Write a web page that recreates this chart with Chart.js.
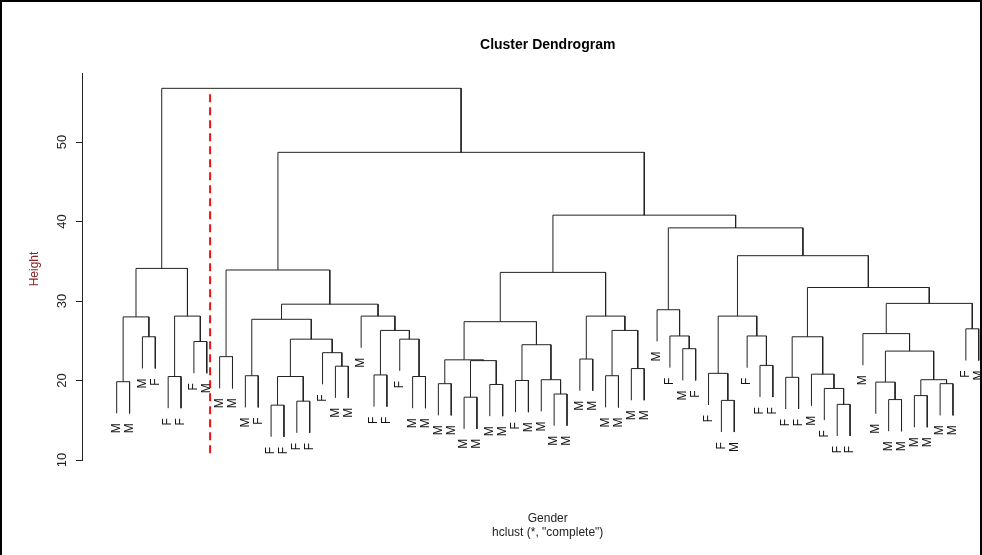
<!DOCTYPE html>
<html>
<head>
<meta charset="utf-8">
<script src="https://cdn.jsdelivr.net/npm/chart.js@4"></script>
<style>
  html, body { margin: 0; padding: 0; background: #fff; }
  #wrap { width: 982px; height: 555px; }
</style>
</head>
<body>
<div id="wrap"><canvas id="dendro" width="982" height="555"></canvas></div>
<script>
// Leaf labels, left to right as drawn
const leafLabels = [
  "M","M","M","F","F","F","F","M","M","M","M","F","F","F","F","F","F",
  "M","M","M","F","F","F","M","M","M","M","M","M","M","M","F","M","M",
  "M","M","M","M","M","M","M","M","M","F","M","F","F","F","M","F","F",
  "F","F","F","M","F","F","F","M","M","M","M","M","M","M","M","F","M",
];

// hclust-style merges: negative = leaf (position), positive = earlier merge
const mergeLeft = [
  -1, -3, 1, -5, -7, 4, 3,
  -9, -11, -13, -15, 10, -18, -17, 12, 9, -21, -24, -23, 17, -20, 16, 8,
  -26, -28, -30, 25, 24, -32, -35, -34, 29, 28, -37, -39, -41, 35, 34, 33,
  -45, -44, -43,
  -48, -47, -51, -50, 44,
  -53, -57, -56, -55, 48, -61, -60, -63, -65, 55, 54, -59, -67, 59, 52, 47,
  42, 39, 23, 7,
];
const mergeRight = [
  -2, -4, 2, -6, -8, 5, 6,
  -10, -12, -14, -16, 11, -19, 13, 14, 15, -22, -25, 18, 19, 20, 21, 22,
  -27, -29, -31, 26, 27, -33, -36, 30, 31, 32, -38, -40, -42, 36, 37, 38,
  -46, 40, 41,
  -49, 43, -52, 45, 46,
  -54, -58, 49, 50, 51, -62, 53, -64, -66, 56, 57, 58, -68, 60, 61, 62,
  63, 64, 65, 66,
];
const mergeHeight = [
  19.85, 25.5, 28.0, 20.5, 24.9, 28.1, 34.1,
  23.0, 20.6, 16.9, 17.4, 20.5, 21.8, 23.5, 25.2, 27.7, 20.7, 20.5, 25.2, 26.3, 28.1, 29.6, 33.9,
  19.6, 17.9, 19.5, 22.5, 22.6, 20.0, 18.3, 20.1, 24.5, 27.4, 22.7, 20.6, 21.5, 26.3, 28.1, 33.6,
  24.0, 25.6, 28.9,
  17.5, 20.9, 21.9, 25.6, 28.1,
  20.4, 17.0, 19.0, 20.8, 25.5, 17.6, 19.8, 18.1, 19.6, 20.1, 23.7, 25.9, 26.5, 29.7, 31.7, 35.7,
  39.2, 40.8, 48.7, 56.75,
];

const yTicks = [10, 20, 30, 40, 50];
const cutX = [8.26, 8.26];
const cutY = [10.85, 56.1];

// Build segment path of the tree (gaps between merges)
const hang = 0.1 * (Math.max(...mergeHeight) - Math.min(...mergeHeight));
const nodeX = [];
const leafBottom = [];
const treePts = [];
mergeHeight.forEach((h, m) => {
  const ends = [mergeLeft[m], mergeRight[m]].map((k) => {
    if (k < 0) {
      leafBottom[-k] = h - hang;
      return { x: -k, y: h - hang };
    }
    return { x: nodeX[k - 1], y: mergeHeight[k - 1] };
  });
  nodeX[m] = (ends[0].x + ends[1].x) / 2;
  treePts.push(
    { x: ends[0].x, y: ends[0].y },
    { x: ends[0].x, y: h },
    { x: ends[1].x, y: h },
    { x: ends[1].x, y: ends[1].y },
    { x: ends[1].x, y: null }
  );
});

const FONT = "'Liberation Sans', Arial, sans-serif";

const textPlugin = {
  id: "rtext",
  beforeDraw(chart) {
    const c = chart.ctx;
    c.save();
    c.fillStyle = "#fff";
    c.fillRect(0, 0, chart.width, chart.height);
    c.strokeStyle = "#000";
    c.lineWidth = 2;
    c.beginPath();
    c.moveTo(1, 555);
    c.lineTo(1, 1);
    c.lineTo(981, 1);
    c.lineTo(981, 555);
    c.stroke();
    c.restore();
  },
  afterDraw(chart) {
    const c = chart.ctx;
    const xs = chart.scales.x;
    const ys = chart.scales.y;
    const cx = xs.getPixelForValue((1 + leafLabels.length) / 2);
    c.save();
    c.fillStyle = "#000";
    c.textAlign = "center";
    c.textBaseline = "middle";
    c.font = "bold 14px " + FONT;
    c.fillText("Cluster Dendrogram", cx, 45);
    c.font = "12px " + FONT;
    c.fillStyle = "#222";
    c.fillText("Gender", cx, 519);
    c.fillText('hclust (*, "complete")', cx, 533);

    // y tick labels, rotated as in base R
    c.font = "13px " + FONT;
    c.fillStyle = "#222";
    yTicks.forEach((v) => {
      c.save();
      c.translate(62, ys.getPixelForValue(v));
      c.rotate(-Math.PI / 2);
      c.fillText(String(v), 0, 0);
      c.restore();
    });
    c.save();
    c.font = "12px " + FONT;
    c.fillStyle = "#8b2323";
    c.translate(35, 269);
    c.rotate(-Math.PI / 2);
    c.fillText("Height", 0, 0);
    c.restore();

    // leaf labels
    c.font = "12px " + FONT;
    c.fillStyle = "#111";
    c.textAlign = "right";
    leafLabels.forEach((lab, i) => {
      const px = xs.getPixelForValue(i + 1);
      const py = ys.getPixelForValue(leafBottom[i + 1]) + 10;
      c.save();
      c.translate(px, py);
      c.rotate(-Math.PI / 2);
      c.fillText(lab, 0, 0);
      c.restore();
    });
    c.restore();
  },
};

new Chart(document.getElementById("dendro"), {
  type: "line",
  data: {
    datasets: [
      {
        data: treePts,
        borderColor: "#222",
        borderWidth: 1,
        pointRadius: 0,
        spanGaps: false,
        tension: 0,
      },
      {
        data: cutX.map((x, i) => ({ x, y: cutY[i] })),
        borderColor: "#ee1111",
        borderWidth: 2,
        borderDash: [8, 5],
        pointRadius: 0,
      },
    ],
  },
  options: {
    responsive: false,
    animation: false,
    events: [],
    layout: { padding: { left: 76, right: 2, top: 73, bottom: 95 } },
    plugins: { legend: { display: false }, tooltip: { enabled: false } },
    scales: {
      x: { type: "linear", display: false, min: -1.697, max: 68.1 },
      y: {
        type: "linear",
        min: 10,
        max: 58.68,
        afterBuildTicks: (s) => { s.ticks = yTicks.map((v) => ({ value: v })); },
        ticks: { display: false },
        grid: { drawOnChartArea: false, tickLength: 6, color: "#222" },
        border: { color: "#222", width: 1 },
      },
    },
  },
  plugins: [textPlugin],
});
</script>
</body>
</html>
